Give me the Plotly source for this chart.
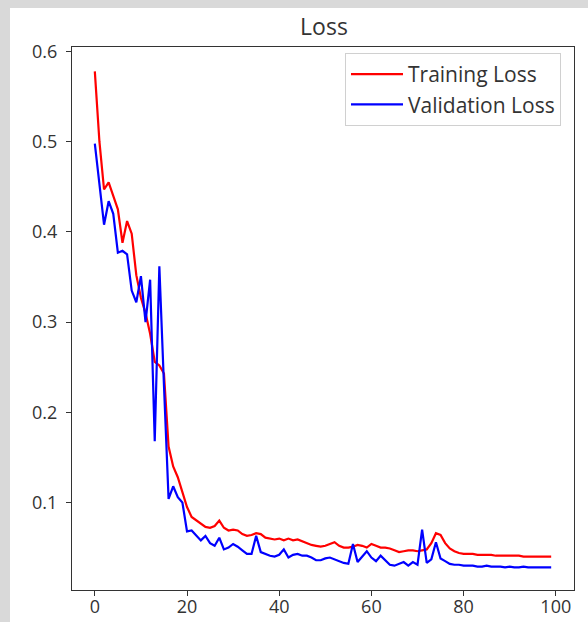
import plotly.graph_objects as go

epochs = list(range(100))

training_loss = [
    0.578, 0.500, 0.447, 0.455, 0.440, 0.425, 0.388, 0.412, 0.398, 0.352,
    0.327, 0.310, 0.287, 0.256, 0.252, 0.243, 0.162, 0.140, 0.128, 0.112,
    0.095, 0.084, 0.080, 0.076, 0.073, 0.072, 0.074, 0.080, 0.072, 0.069,
    0.070, 0.069, 0.065, 0.063, 0.064, 0.066, 0.065, 0.061, 0.060, 0.059,
    0.060, 0.058, 0.060, 0.058, 0.059, 0.057, 0.055, 0.053, 0.052, 0.051,
    0.052, 0.054, 0.056, 0.052, 0.050, 0.050, 0.051, 0.053, 0.052, 0.050,
    0.054, 0.052, 0.050, 0.050, 0.049, 0.047, 0.045, 0.046, 0.047, 0.047,
    0.046, 0.047, 0.048, 0.055, 0.066, 0.064, 0.055, 0.049, 0.046, 0.044,
    0.043, 0.043, 0.043, 0.042, 0.042, 0.042, 0.042, 0.041, 0.041, 0.041,
    0.041, 0.041, 0.041, 0.040, 0.040, 0.040, 0.040, 0.040, 0.040, 0.040,
]

validation_loss = [
    0.498, 0.455, 0.408, 0.434, 0.420, 0.377, 0.379, 0.375, 0.335, 0.322,
    0.351, 0.300, 0.347, 0.168, 0.362, 0.230, 0.104, 0.118, 0.106, 0.100,
    0.068, 0.069, 0.064, 0.058, 0.063, 0.055, 0.052, 0.061, 0.048, 0.050,
    0.054, 0.051, 0.047, 0.043, 0.043, 0.063, 0.045, 0.043, 0.041, 0.040,
    0.042, 0.048, 0.039, 0.042, 0.043, 0.041, 0.041, 0.039, 0.036, 0.036,
    0.038, 0.039, 0.037, 0.035, 0.033, 0.032, 0.054, 0.034, 0.040, 0.046,
    0.039, 0.035, 0.041, 0.036, 0.031, 0.030, 0.032, 0.034, 0.030, 0.034,
    0.031, 0.070, 0.033, 0.037, 0.056, 0.038, 0.035, 0.032, 0.031, 0.031,
    0.030, 0.030, 0.030, 0.029, 0.029, 0.030, 0.029, 0.029, 0.029, 0.028,
    0.029, 0.028, 0.028, 0.029, 0.028, 0.028, 0.028, 0.028, 0.028, 0.028,
]

x_ticks = [0, 20, 40, 60, 80, 100]
y_ticks = [0.1, 0.2, 0.3, 0.4, 0.5, 0.6]
y_tick_labels = ["0.1", "0.2", "0.3", "0.4", "0.5", "0.6"]

FONT = "Open Sans"
W, H = 588, 622
# plot area in pixels: x 72..574, y 47..590
L, R, T, B = 72, W - 574, 47, H - 590
pw, ph = W - L - R, H - T - B


def px_x(p):
    return (p - L) / pw


def px_y(p):
    return (H - B - p) / ph


fig = go.Figure()
fig.add_trace(go.Scatter(x=epochs, y=training_loss, mode="lines", name="Training Loss",
                         line=dict(color="#ff0000", width=2.2)))
fig.add_trace(go.Scatter(x=epochs, y=validation_loss, mode="lines", name="Validation Loss",
                         line=dict(color="#0000ff", width=2.2)))

axis_common = dict(showline=True, linecolor="#333333", linewidth=1.2, mirror=True,
                   ticks="outside", ticklen=5, tickcolor="#333333", showgrid=False,
                   zeroline=False, automargin=False,
                   tickfont=dict(family=FONT, size=18, color="#333333"))

fig.update_xaxes(range=[-4.95, 103.95], tickvals=x_ticks, ticklabelstandoff=-5, **axis_common)
fig.update_yaxes(range=[0.003, 0.605], tickvals=y_ticks, ticktext=y_tick_labels,
                 ticklabelstandoff=5, **axis_common)

# gray strips of the surrounding screenshot (top and left)
fig.add_shape(type="rect", xref="paper", yref="paper", layer="below",
              x0=px_x(-5), x1=px_x(W + 5), y0=px_y(8), y1=px_y(-5),
              fillcolor="#d9d9d9", line=dict(width=0))
fig.add_shape(type="rect", xref="paper", yref="paper", layer="below",
              x0=px_x(-5), x1=px_x(10), y0=px_y(H + 5), y1=px_y(-5),
              fillcolor="#d9d9d9", line=dict(width=0))

fig.update_layout(
    width=W, height=H,
    margin=dict(l=L, r=R, t=T, b=B, autoexpand=False),
    paper_bgcolor="white", plot_bgcolor="white",
    font=dict(family=FONT, color="#333333"),
    title=dict(text="Loss", x=px_x(324), xanchor="center", xref="paper",
               y=1 - 27 / H, yanchor="middle", yref="container",
               font=dict(family=FONT, size=23, color="#333333")),
    legend=dict(x=px_x(345), y=px_y(53), xanchor="left", yanchor="top",
                bgcolor="white", bordercolor="#d0d0d0", borderwidth=1,
                font=dict(family=FONT, size=21, color="#333333"),
                itemwidth=52, tracegroupgap=0),
    showlegend=True,
)

fig.write_html("out.html", config={"displayModeBar": False},
               post_script="document.body.style.margin='0';document.body.style.background='white';")
